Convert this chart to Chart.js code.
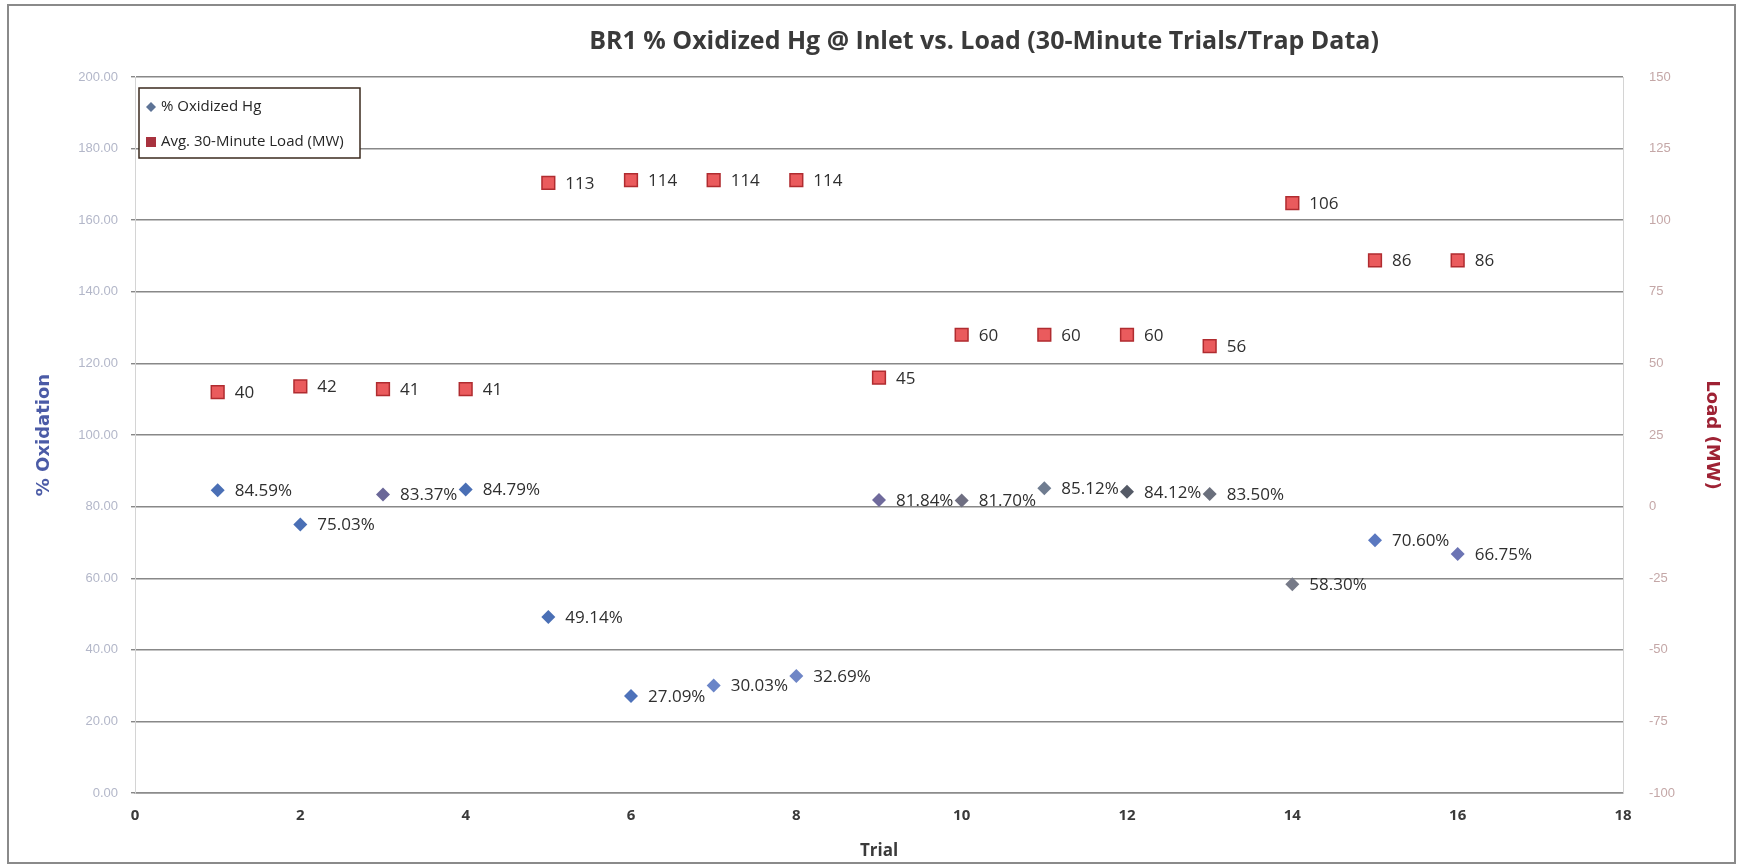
<!DOCTYPE html>
<html>
<head>
<meta charset="utf-8">
<title>BR1 % Oxidized Hg @ Inlet vs. Load</title>
<script src="https://cdn.jsdelivr.net/npm/chart.js@4.4.1/dist/chart.umd.min.js"></script>
<style>
    html, body { margin: 0; padding: 0; background: #ffffff; }
    #wrap { width: 1740px; height: 867px; }
</style>
</head>
<body>
<div id="wrap"><canvas id="hgChart" width="1740" height="867"></canvas></div>
<script>
// Chart data
const chartTitle = 'BR1 % Oxidized Hg @ Inlet vs. Load (30-Minute Trials/Trap Data)';
const trials = [1, 2, 3, 4, 5, 6, 7, 8, 9, 10, 11, 12, 13, 14, 15, 16];
const oxidizedHg = [84.59, 75.03, 83.37, 84.79, 49.14, 27.09, 30.03, 32.69, 81.84, 81.70, 85.12, 84.12, 83.50, 58.30, 70.60, 66.75];
const avgLoad = [40, 42, 41, 41, 113, 114, 114, 114, 45, 60, 60, 60, 56, 106, 86, 86];
const seriesNames = ['% Oxidized Hg', 'Avg. 30-Minute Load (MW)'];

// marker colours per point (the scan shows some diamonds greyer than others)
const diamondColors = ['#4a6fb5', '#4a6fb5', '#6a6798', '#4a6fb5', '#4a6fb5', '#4e72ba', '#6a85c8', '#6f86c6',
    '#6f6a9c', '#6f6f82', '#6f7c90', '#545a66', '#6a6f7c', '#767a88', '#5a78c0', '#6c74b4'];

// draws the value next to each marker
const valueLabels = {
    id: 'valueLabels',
    afterDatasetsDraw(chart) {
        const ctx = chart.ctx;
        ctx.save();
        ctx.font = '500 17px "Open Sans"';
        ctx.fillStyle = '#2f2f2f';
        ctx.textAlign = 'left';
        ctx.textBaseline = 'middle';
        chart.data.datasets.forEach((ds, i) => {
            const meta = chart.getDatasetMeta(i);
            meta.data.forEach((pt, j) => {
                const v = ds.data[j].y;
                const txt = i === 0 ? v.toFixed(2) + '%' : String(v);
                ctx.fillText(txt, pt.x + 17, pt.y + 1);
            });
        });
        ctx.restore();
    }
};

// title, frame and boxed legend like the Excel original
const decorations = {
    id: 'decorations',
    beforeDraw(chart) {
        const ctx = chart.ctx;
        ctx.save();
        ctx.fillStyle = '#ffffff';
        ctx.fillRect(0, 0, chart.width, chart.height);
        ctx.restore();
    },
    afterDraw(chart) {
        const ctx = chart.ctx;
        ctx.save();
        // outer frame
        ctx.strokeStyle = '#8a8a8a';
        ctx.lineWidth = 2;
        ctx.strokeRect(8, 5, 1727, 858);

        // title
        ctx.font = 'bold 25px "Open Sans"';
        ctx.fillStyle = '#3a3a3a';
        ctx.textAlign = 'center';
        ctx.textBaseline = 'middle';
        ctx.fillText(chartTitle, 984, 42, 800);

        // legend box
        ctx.fillStyle = '#ffffff';
        ctx.fillRect(139, 88, 221, 70);
        ctx.strokeStyle = '#3b2a1e';
        ctx.lineWidth = 1.5;
        ctx.strokeRect(139, 88, 221, 70);

        ctx.fillStyle = '#5d7396';
        ctx.beginPath();
        ctx.moveTo(151, 102); ctx.lineTo(156, 107); ctx.lineTo(151, 112); ctx.lineTo(146, 107);
        ctx.closePath();
        ctx.fill();
        ctx.fillStyle = '#a8323e';
        ctx.fillRect(146, 137, 10, 10);

        ctx.font = '500 15px "Open Sans"';
        ctx.fillStyle = '#262626';
        ctx.textAlign = 'left';
        ctx.fillText(chart.data.datasets[0].label, 161, 107);
        ctx.fillText(chart.data.datasets[1].label, 161, 142, 194);
        ctx.restore();
    }
};

const ctx = document.getElementById('hgChart').getContext('2d');
new Chart(ctx, {
    type: 'scatter',
    data: {
        datasets: [
            {
                label: seriesNames[0],
                data: trials.map((t, i) => ({ x: t, y: oxidizedHg[i] })),
                yAxisID: 'y',
                pointStyle: 'rectRot',
                pointRadius: 7,
                pointHoverRadius: 7,
                backgroundColor: diamondColors,
                borderColor: diamondColors,
                borderWidth: 0
            },
            {
                label: seriesNames[1],
                data: trials.map((t, i) => ({ x: t, y: avgLoad[i] })),
                yAxisID: 'y1',
                pointStyle: 'rect',
                pointRadius: 9,
                pointHoverRadius: 9,
                backgroundColor: '#ea5b5d',
                borderColor: '#b02c30',
                borderWidth: 1.5
            }
        ]
    },
    options: {
        responsive: false,
        animation: false,
        events: [],
        layout: { padding: { top: 77, left: 0, right: 0, bottom: 0 } },
        plugins: {
            legend: { display: false },
            tooltip: { enabled: false },
            title: { display: false }
        },
        scales: {
            x: {
                type: 'linear',
                min: 0,
                max: 18,
                afterFit: scale => { scale.height = 74; },
                grid: { display: false, drawTicks: false },
                border: { display: true, color: '#8c8c8c', width: 1.5 },
                ticks: {
                    stepSize: 2,
                    padding: 14,
                    color: '#3a3a3a',
                    font: { family: 'Open Sans', size: 15, weight: 'bold' }
                },
                title: {
                    display: true,
                    text: 'Trial',
                    color: '#3a3a3a',
                    font: { family: 'Open Sans', size: 17, weight: 'bold' },
                    padding: { top: 0, bottom: 6 }
                }
            },
            y: {
                position: 'left',
                min: 0,
                max: 200,
                afterFit: scale => { scale.width = 135; },
                grid: { color: '#888888', lineWidth: 1.4, tickLength: 4 },
                border: { display: true, color: '#d4d4d4', width: 1 },
                ticks: {
                    stepSize: 20,
                    padding: 13,
                    color: '#b3b7c9',
                    font: { family: 'Liberation Sans', size: 13 },
                    callback: v => v.toFixed(2)
                },
                title: {
                    display: true,
                    text: '% Oxidation',
                    color: '#4b5ba6',
                    font: { family: 'DejaVu Sans', size: 18, weight: 'bold' },
                    padding: { top: 34, bottom: 0 }
                }
            },
            y1: {
                position: 'right',
                min: -100,
                max: 150,
                afterFit: scale => { scale.width = 117; },
                grid: { drawOnChartArea: false, drawTicks: false, tickLength: 0 },
                border: { display: true, color: '#d4d4d4', width: 1 },
                ticks: {
                    stepSize: 25,
                    padding: 26,
                    color: '#c4a7a7',
                    font: { family: 'Liberation Sans', size: 13 }
                },
                title: {
                    display: true,
                    text: 'Load (MW)',
                    color: '#9e2234',
                    font: { family: 'DejaVu Sans', size: 18, weight: 'bold' },
                    padding: { top: 18, bottom: 0 }
                }
            }
        }
    },
    plugins: [decorations, valueLabels]
});
</script>
</body>
</html>
